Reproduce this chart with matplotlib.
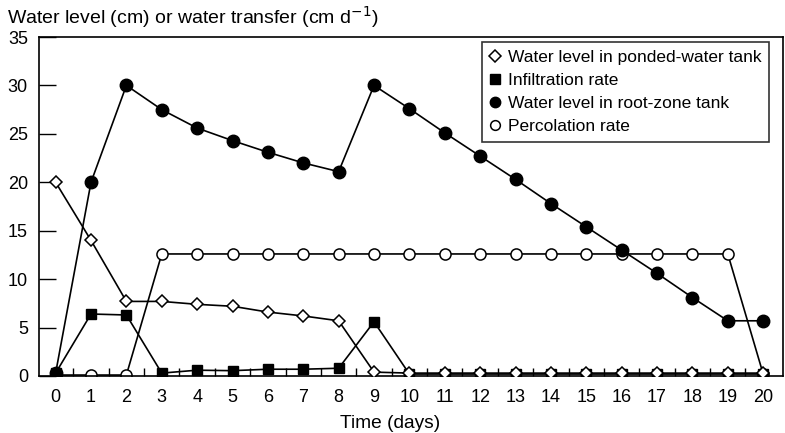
import matplotlib
matplotlib.use("Agg")
import matplotlib.pyplot as plt
import numpy as np
from matplotlib.ticker import MultipleLocator, FixedLocator
from matplotlib.lines import Line2D

plt.rcParams['font.family'] = ['Liberation Sans', 'DejaVu Sans']

days = list(range(21))
ponded = [20.0, 14.0, 7.7, 7.7, 7.4, 7.2, 6.6, 6.2, 5.7, 0.4, 0.3, 0.3, 0.3, 0.3, 0.3, 0.3, 0.3, 0.3, 0.3, 0.3, 0.3]
infiltration = [0.3, 6.4, 6.3, 0.3, 0.6, 0.55, 0.7, 0.7, 0.8, 5.6, 0.2, 0.2, 0.2, 0.2, 0.2, 0.2, 0.2, 0.2, 0.2, 0.2, 0.2]
rootzone = [0.3, 20.0, 30.0, 27.5, 25.6, 24.3, 23.1, 22.0, 21.1, 30.0, 27.6, 25.1, 22.7, 20.3, 17.8, 15.4, 13.0, 10.6, 8.1, 5.7, 5.7]
percolation = [0.1, 0.1, 0.1, 12.6, 12.6, 12.6, 12.6, 12.6, 12.6, 12.6, 12.6, 12.6, 12.6, 12.6, 12.6, 12.6, 12.6, 12.6, 12.6, 12.6, 0.2]

labels = ["Water level in ponded-water tank", "Infiltration rate",
          "Water level in root-zone tank", "Percolation rate"]

fig = plt.figure(figsize=(7.85, 4.33), dpi=100)
ax = fig.add_axes([39/785, 1-376/433, (783-39)/785, (376-37)/433])

lw = 1.2
ax.plot(days, percolation, color='black', lw=lw, marker='o', ms=8, mfc='white', mec='black', mew=1.1, zorder=2)
ax.plot(days, rootzone, color='black', lw=lw, marker='o', ms=9, mfc='black', mec='black', zorder=3)
ax.plot(days, infiltration, color='black', lw=lw, marker='s', ms=6.5, mfc='black', mec='black', zorder=4)
ax.plot(days, ponded, color='black', lw=lw, marker='D', ms=6.5, mfc='white', mec='black', mew=1.1, zorder=5)

ax.set_xlim(-0.47, 20.56)
ax.set_ylim(0, 35)
ax.xaxis.set_major_locator(FixedLocator(days))
ax.xaxis.set_minor_locator(FixedLocator(np.arange(0.5, 20, 1.0)))
ax.yaxis.set_major_locator(MultipleLocator(5))
ax.tick_params(axis='x', which='major', length=0, labelsize=13, pad=9)
ax.tick_params(axis='x', which='minor', direction='in', length=6, width=1)
ax.tick_params(axis='y', which='major', direction='in', length=12, width=1, labelsize=13, pad=8)
for s in ax.spines.values():
    s.set_linewidth(1.2)

handles = [
    Line2D([], [], ls='none', marker='D', ms=6, mfc='white', mec='black', mew=1.1),
    Line2D([], [], ls='none', marker='s', ms=6.5, mfc='black', mec='black'),
    Line2D([], [], ls='none', marker='o', ms=7.5, mfc='black', mec='black'),
    Line2D([], [], ls='none', marker='o', ms=7, mfc='white', mec='black', mew=1.1),
]
leg = ax.legend(handles, labels, loc='upper right', bbox_to_anchor=(769/785, 1-42/433), bbox_transform=fig.transFigure,
                frameon=True, fancybox=False, edgecolor='black', fontsize=12.5,
                handlelength=0.6, handletextpad=0.4, labelspacing=0.45, borderpad=0.45, borderaxespad=0)
leg.get_frame().set_linewidth(1.2)

fig.text(7/785, 1-17/433, "Water level (cm) or water transfer (cm d$^{-1}$)", fontsize=14, va='center', ha='left')
fig.text(390/785, 1-423/433, "Time (days)", fontsize=13.8, va='center', ha='center')

fig.savefig("out.png", dpi=100)
